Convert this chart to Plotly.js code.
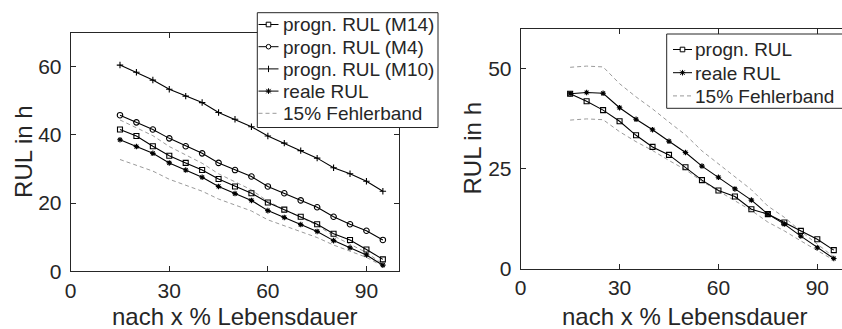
<!DOCTYPE html>
<html>
<head>
<meta charset="utf-8">
<script src="https://cdn.plot.ly/plotly-3.0.1.min.js"></script>
<style>html,body{margin:0;padding:0;background:#fff;}#chart{width:842px;height:329px;}</style>
</head>
<body>
<div id="chart"></div>
<script>
// x values: percent of lifetime
const pctLife = [15, 20, 25, 30, 35, 40, 45, 50, 55, 60, 65, 70, 75, 80, 85, 90, 95];

// Left chart series (RUL in h)
const progM14 = [41.6, 39.7, 36.7, 33.9, 31.8, 29.7, 27.1, 24.9, 22.9, 20.2, 18.1, 16.0, 13.8, 11.0, 9.2, 6.4, 3.5];
const progM4  = [45.8, 43.7, 41.6, 39.0, 36.7, 34.6, 31.8, 29.7, 27.8, 24.9, 22.9, 20.8, 18.8, 16.0, 13.8, 11.9, 9.2];
const progM10 = [60.5, 58.4, 56.1, 53.4, 51.4, 49.5, 46.6, 44.6, 42.4, 39.7, 37.6, 35.4, 33.2, 30.4, 28.6, 26.4, 23.5];
const realLeft = [38.6, 36.6, 34.6, 31.8, 29.7, 27.6, 24.9, 22.8, 20.8, 17.8, 15.8, 13.7, 11.7, 9.0, 6.9, 4.8, 1.8];
const bandUpLeft = [44.4, 42.1, 39.8, 36.6, 34.2, 31.7, 28.6, 26.2, 23.9, 20.5, 18.2, 15.8, 13.5, 10.4, 7.9, 5.5, 2.1];
const bandLoLeft = [32.8, 31.1, 29.4, 27.0, 25.2, 23.5, 21.2, 19.4, 17.7, 15.1, 13.4, 11.6, 9.9, 7.7, 5.9, 4.1, 1.5];

// Right chart series (RUL in h)
const progRight = [43.7, 41.8, 39.6, 36.8, 33.3, 30.4, 28.4, 25.3, 22.1, 19.5, 18.0, 14.8, 13.6, 11.5, 9.4, 7.3, 4.6];
const realRight = [43.7, 44.0, 43.8, 40.2, 37.3, 34.7, 31.8, 29.0, 25.6, 22.8, 19.9, 17.1, 13.6, 11.1, 8.1, 5.2, 2.5];
const bandUpRight = [50.3, 50.6, 50.4, 46.2, 42.9, 39.9, 36.6, 33.4, 29.4, 26.2, 22.9, 19.7, 15.6, 12.8, 9.3, 6.0, 2.9];
const bandLoRight = [37.1, 37.4, 37.2, 34.2, 31.7, 29.5, 27.0, 24.7, 21.8, 19.4, 16.9, 14.5, 11.6, 9.4, 6.9, 4.4, 2.1];

// Labels
const legendLeftNames = ['progn. RUL (M14)', 'progn. RUL (M4)', 'progn. RUL (M10)', 'reale RUL', '15% Fehlerband'];
const legendRightNames = ['progn. RUL', 'reale RUL', '15% Fehlerband'];
const xTitle = 'nach x % Lebensdauer';
const yTitle = 'RUL in h';
const xTicksLeft = [0, 30, 60, 90];
const yTicksLeft = [0, 20, 40, 60];
const xTicksRight = [0, 30, 60, 90];
const yTicksRight = [0, 25, 50];

const W = 842, H = 329;
const ink = '#262626';
const bandColor = '#9a9a9a';
const fontFam = '"Liberation Sans", Arial, Helvetica, sans-serif';
const px = v => v / W;
const py = v => 1 - v / H;

const SYM = {square: 'square-open', circle: 'circle-open', plus: 'cross-thin-open', star: 'asterisk-open'};
const SIZE = {square: 5, circle: 5.5, plus: 4.6, star: 4.6};

function line(x, y, name, kind, xa, ya) {
  return {
    x: x, y: y, name: name, type: 'scatter', mode: 'lines+markers',
    xaxis: xa, yaxis: ya, showlegend: false,
    line: {color: '#000', width: 1.1},
    marker: {symbol: SYM[kind], size: SIZE[kind], color: '#000', line: {color: '#000', width: 1.1}}
  };
}
function band(x, y, xa, ya) {
  return {
    x: x, y: y, name: '15% Fehlerband', type: 'scatter', mode: 'lines',
    xaxis: xa, yaxis: ya, showlegend: false,
    line: {color: bandColor, width: 1, dash: '4px,3px'}
  };
}

const traces = [
  band(pctLife, bandUpLeft, 'x', 'y'),
  band(pctLife, bandLoLeft, 'x', 'y'),
  line(pctLife, progM14, legendLeftNames[0], 'square', 'x', 'y'),
  line(pctLife, progM4, legendLeftNames[1], 'circle', 'x', 'y'),
  line(pctLife, progM10, legendLeftNames[2], 'plus', 'x', 'y'),
  line(pctLife, realLeft, legendLeftNames[3], 'star', 'x', 'y'),
  band(pctLife, bandUpRight, 'x2', 'y2'),
  band(pctLife, bandLoRight, 'x2', 'y2'),
  line(pctLife, progRight, legendRightNames[0], 'square', 'x2', 'y2'),
  line(pctLife, realRight, legendRightNames[1], 'star', 'x2', 'y2')
];

// plot areas in pixels
const L = {x0: 70.7, x1: 399.3, y0: 32.7, y1: 271.3};
const R = {x0: 520.7, x1: 842, y0: 28.5, y1: 268.5};

function axBase(extra) {
  return Object.assign({
    showline: true, linecolor: ink, linewidth: 1,
    ticks: 'inside', ticklen: 5, tickwidth: 1, tickcolor: ink,
    showgrid: false, zeroline: false, tickmode: 'array',
    tickfont: {family: fontFam, size: 21, color: ink},
    fixedrange: true
  }, extra);
}

// ---- hand-built legends (shapes + annotation text) ----
const shapes = [];
const annotations = [];
function seg(x0, y0, x1, y1, color, dash) {
  shapes.push({type: 'line', xref: 'paper', yref: 'paper', layer: 'above',
    x0: px(x0), y0: py(y0), x1: px(x1), y1: py(y1),
    line: {color: color || '#000', width: 1, dash: dash || 'solid'}});
}
function legendSymbol(kind, x0, x1, y) {
  const cx = (x0 + x1) / 2;
  if (kind === 'band') { seg(x0, y, x1, y, bandColor, '4px,3px'); return; }
  seg(x0, y, x1, y);
  const r = 2.3;
  if (kind === 'square') {
    shapes.push({type: 'rect', xref: 'paper', yref: 'paper', layer: 'above',
      x0: px(cx - r), x1: px(cx + r), y0: py(y - r), y1: py(y + r),
      fillcolor: '#fff', line: {color: '#000', width: 1}});
  } else if (kind === 'circle') {
    shapes.push({type: 'circle', xref: 'paper', yref: 'paper', layer: 'above',
      x0: px(cx - r), x1: px(cx + r), y0: py(y - r), y1: py(y + r),
      fillcolor: '#fff', line: {color: '#000', width: 1}});
  } else if (kind === 'plus') {
    seg(cx, y - 3.2, cx, y + 3.2);
  } else if (kind === 'star') {
    seg(cx, y - 2.8, cx, y + 2.8);
    seg(cx - 2.2, y - 2.2, cx + 2.2, y + 2.2);
    seg(cx - 2.2, y + 2.2, cx + 2.2, y - 2.2);
    seg(cx - 2.8, y, cx + 2.8, y);
  }
}
function buildLegend(box, names, kinds, firstY, step, symX0, symX1, textX) {
  shapes.push({type: 'rect', xref: 'paper', yref: 'paper', layer: 'above',
    x0: px(box.x0), x1: px(box.x1), y0: py(box.y1), y1: py(box.y0),
    fillcolor: '#fff', line: {color: ink, width: 1}});
  names.forEach((nm, i) => {
    const y = firstY + i * step;
    legendSymbol(kinds[i], symX0, symX1, y);
    annotations.push({text: nm, xref: 'paper', yref: 'paper', x: px(textX), y: py(y + 0.5),
      xanchor: 'left', yanchor: 'middle', showarrow: false,
      font: {family: fontFam, size: 19, color: ink}});
  });
}
buildLegend({x0: 257.3, x1: 438, y0: 12.7, y1: 127.5}, legendLeftNames,
  ['square', 'circle', 'plus', 'star', 'band'], 24.5, 22.2, 258.5, 278.5, 280.5);
buildLegend({x0: 666.7, x1: 845, y0: 34, y1: 108.3}, legendRightNames,
  ['square', 'star', 'band'], 49.5, 23.2, 673, 692, 692.5);

// axis titles
const titleFont = {family: fontFam, size: 24, color: ink};
annotations.push(
  {text: xTitle, xref: 'paper', yref: 'paper', x: px((L.x0 + L.x1) / 2), y: py(316.5),
   xanchor: 'center', yanchor: 'middle', showarrow: false, font: titleFont},
  {text: xTitle, xref: 'paper', yref: 'paper', x: px(685.4), y: py(316.5),
   xanchor: 'center', yanchor: 'middle', showarrow: false, font: titleFont},
  {text: yTitle, xref: 'paper', yref: 'paper', x: px(22.9), y: py(152), textangle: -90,
   xanchor: 'center', yanchor: 'middle', showarrow: false, font: titleFont},
  {text: yTitle, xref: 'paper', yref: 'paper', x: px(472), y: py(148.5), textangle: -90,
   xanchor: 'center', yanchor: 'middle', showarrow: false, font: titleFont}
);

const layout = {
  width: W, height: H,
  margin: {l: 0, r: 0, t: 0, b: 0},
  paper_bgcolor: '#fff', plot_bgcolor: '#fff',
  font: {family: fontFam, color: ink},
  showlegend: false,
  xaxis: axBase({domain: [px(L.x0), px(L.x1)], range: [0, 100], tickvals: xTicksLeft, mirror: 'ticks', anchor: 'y', ticklabelstandoff: 0}),
  yaxis: axBase({domain: [py(L.y1), py(L.y0)], range: [0, 70], tickvals: yTicksLeft, mirror: 'ticks', anchor: 'x', ticklabelstandoff: 4}),
  xaxis2: axBase({domain: [px(R.x0), px(R.x1)], range: [0, (R.x1 - R.x0) / 3.2956], tickvals: xTicksRight, mirror: 'ticks', anchor: 'y2', ticklabelstandoff: 0}),
  yaxis2: axBase({domain: [py(R.y1), py(R.y0)], range: [0, 60], tickvals: yTicksRight, mirror: false, anchor: 'x2', ticklabelstandoff: 4}),
  shapes: shapes,
  annotations: annotations
};

Plotly.newPlot('chart', traces, layout, {displayModeBar: false, staticPlot: true});
</script>
</body>
</html>
